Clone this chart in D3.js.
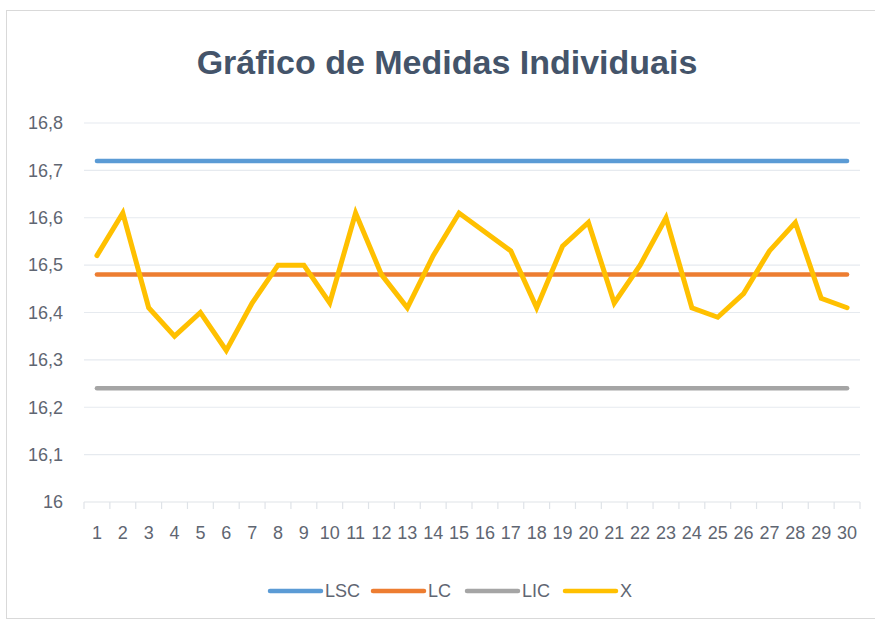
<!DOCTYPE html>
<html>
<head>
<meta charset="utf-8">
<script src="https://cdn.jsdelivr.net/npm/d3@7"></script>
<style>
  body { margin: 0; background: #fff; }
  svg { display: block; }
</style>
</head>
<body>
<div id="chart"></div>
<script>
// Gráfico de medidas individuais (carta de controle)
const samples = d3.range(1, 31);
const xValues = [16.52, 16.61, 16.41, 16.35, 16.40, 16.32, 16.42, 16.50, 16.50, 16.42,
                 16.61, 16.48, 16.41, 16.52, 16.61, 16.57, 16.53, 16.41, 16.54, 16.59,
                 16.42, 16.50, 16.60, 16.41, 16.39, 16.44, 16.53, 16.59, 16.43, 16.41];
const lsc = 16.72;
const lc = 16.48;
const lic = 16.24;
const yTicks = [16, 16.1, 16.2, 16.3, 16.4, 16.5, 16.6, 16.7, 16.8];

const seriesNames = ["LSC", "LC", "LIC", "X"];
const seriesColors = ["#5b9bd5", "#ed7d31", "#a5a5a5", "#ffc000"];

const W = 875, H = 625;
const margin = { top: 123, right: 15, bottom: 123, left: 84 };

const svg = d3.select("#chart").append("svg")
    .attr("width", W)
    .attr("height", H);

const fontFam = "'Liberation Sans Narrow', 'Liberation Sans', sans-serif";

// chart frame
svg.append("rect")
    .attr("x", 6.5).attr("y", 10.5)
    .attr("width", W).attr("height", 608)
    .attr("fill", "#fff")
    .attr("stroke", "#d9d9d9");

const x = d3.scaleBand()
    .domain(samples)
    .range([margin.left, W - margin.right]);

const y = d3.scaleLinear()
    .domain([16, 16.8])
    .range([H - margin.bottom, margin.top]);

const locale = d3.formatLocale({ decimal: ",", thousands: ".", grouping: [3], currency: ["", ""] });
const fmt = locale.format(".3~g");

// gridlines
svg.append("g")
    .selectAll("line")
    .data(yTicks.slice(1))
    .join("line")
    .attr("x1", x.range()[0])
    .attr("x2", x.range()[1])
    .attr("y1", d => y(d))
    .attr("y2", d => y(d))
    .attr("stroke", "#e6eaef")
    .attr("stroke-width", 1.2);

// y labels
svg.append("g")
    .selectAll("text")
    .data(yTicks)
    .join("text")
    .attr("x", 63)
    .attr("y", d => y(d))
    .attr("dy", "0.35em")
    .attr("text-anchor", "end")
    .attr("font-family", fontFam)
    .attr("font-size", "18px")
    .attr("fill", "#5f6672")
    .text(d => fmt(d));

// x axis line + ticks at category boundaries
const axisG = svg.append("g");
axisG.append("line")
    .attr("x1", x.range()[0])
    .attr("x2", x.range()[1])
    .attr("y1", y(16))
    .attr("y2", y(16))
    .attr("stroke", "#dfe3e8")
    .attr("stroke-width", 1.2);

axisG.selectAll(".tick")
    .data(samples.concat([null]))
    .join("line")
    .attr("class", "tick")
    .attr("x1", d => d === null ? x.range()[1] : x(d))
    .attr("x2", d => d === null ? x.range()[1] : x(d))
    .attr("y1", y(16))
    .attr("y2", y(16) + 7)
    .attr("stroke", "#dfe3e8")
    .attr("stroke-width", 1.2);

axisG.selectAll(".xlabel")
    .data(samples)
    .join("text")
    .attr("class", "xlabel")
    .attr("x", d => x(d) + x.bandwidth() / 2)
    .attr("y", 533)
    .attr("dy", "0.35em")
    .attr("text-anchor", "middle")
    .attr("font-family", fontFam)
    .attr("font-size", "18px")
    .attr("fill", "#5f6672")
    .text(d => d);

// series lines
const cx = d => x(d) + x.bandwidth() / 2;
const line = d3.line()
    .x(d => cx(d.s))
    .y(d => y(d.v));

const series = [
    samples.map(s => ({ s, v: lsc })),
    samples.map(s => ({ s, v: lc })),
    samples.map(s => ({ s, v: lic })),
    samples.map((s, i) => ({ s, v: xValues[i] }))
];

svg.append("g")
    .selectAll("path")
    .data(series)
    .join("path")
    .attr("d", line)
    .attr("fill", "none")
    .attr("stroke", (d, i) => seriesColors[i])
    .attr("stroke-width", (d, i) => i === 3 ? 5 : 4.5)
    .attr("stroke-linejoin", "miter")
    .attr("stroke-linecap", "round");

// title
svg.append("text")
    .attr("x", 447)
    .attr("y", 62)
    .attr("dy", "0.35em")
    .attr("text-anchor", "middle")
    .attr("font-family", fontFam)
    .attr("font-weight", "bold")
    .attr("font-size", "34px")
    .attr("fill", "#44546a")
    .text("Gráfico de Medidas Individuais");

// legend
const legendItems = [
    { name: "LSC", x0: 270 },
    { name: "LC", x0: 373 },
    { name: "LIC", x0: 467 },
    { name: "X", x0: 565 }
];
const lg = svg.append("g");
legendItems.forEach((d, i) => {
    lg.append("line")
        .attr("x1", d.x0).attr("x2", d.x0 + 51)
        .attr("y1", 591).attr("y2", 591)
        .attr("stroke", seriesColors[i])
        .attr("stroke-width", 4.5)
        .attr("stroke-linecap", "round");
    lg.append("text")
        .attr("x", d.x0 + 55)
        .attr("y", 591)
        .attr("dy", "0.35em")
        .attr("font-family", fontFam)
        .attr("font-size", "18px")
        .attr("fill", "#5f6672")
        .text(seriesNames[i]);
});
</script>
</body>
</html>
